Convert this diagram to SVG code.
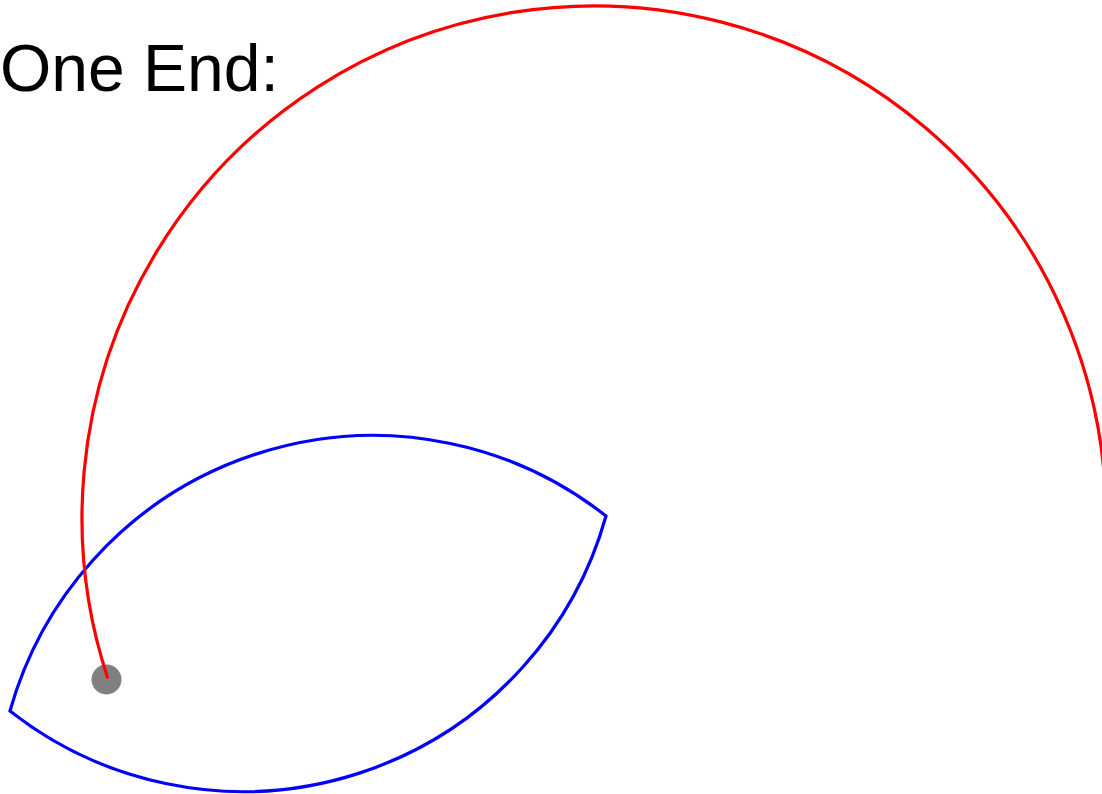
<svg xmlns="http://www.w3.org/2000/svg" width="1102" height="794" viewBox="0 0 1102 794">
<style>
.lbl{font-family:"Liberation Sans",Arial,sans-serif;font-size:66px;fill:#000}
.ln{fill:none;stroke-width:3.2}
</style>
<rect width="1102" height="794" fill="#fff"/>
<g id="title"><text class="lbl" x="0" y="91">One End:</text></g>
<g id="lens"><path class="ln" stroke="#0000ff" stroke-linejoin="miter" d="M10,711 A377,377 0 0 1 606,516 A377,377 0 0 1 10,711 Z"/></g>
<g id="dot"><circle cx="106.5" cy="679.5" r="15" fill="#808080"/></g>
<g id="connectors"><path class="ln" stroke="#ff0000" d="M107.8,678.4 A512,512 0 1 1 1106,518"/></g>
</svg>
